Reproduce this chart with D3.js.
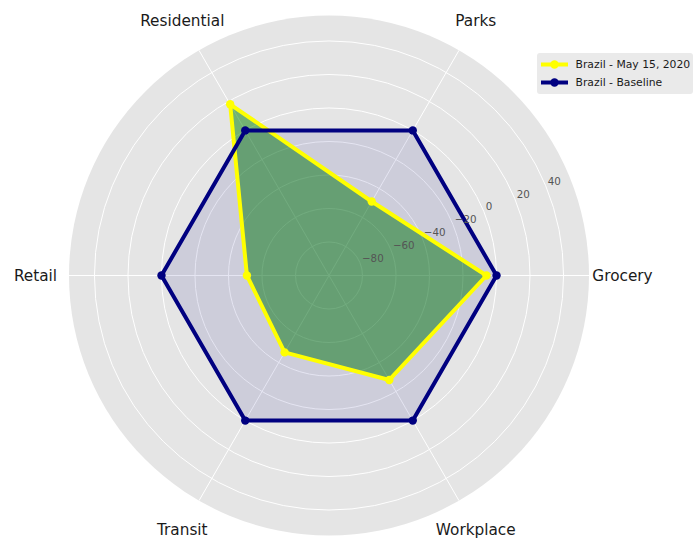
<!DOCTYPE html>
<html>
<head>
<meta charset="utf-8">
<script src="https://cdn.jsdelivr.net/npm/d3@7"></script>
<style>
  body { margin: 0; background: #fff; }
  svg { display: block; font-family: "DejaVu Sans", sans-serif; }
</style>
</head>
<body>
<svg id="chart" width="695" height="538"></svg>
<script>
// data
const categories = ['Grocery', 'Parks', 'Residential', 'Retail', 'Transit', 'Workplace']
const may15 = [-6, -49, 18, -51, -47, -28]
const baseline = [0, 0, 0, 0, 0, 0]
const rTicks = [-80, -60, -40, -20, 0, 20, 40]
const seriesNames = ['Brazil - May 15, 2020', 'Brazil - Baseline']

const svg = d3.select('#chart')
const cx = 329
const cy = 275.5
const R = 260

// radial scale
const r = d3.scaleLinear().domain([-100, 55.2]).range([0, R])
// category angle, counter clockwise from east (math convention)
const theta = (i) => i * 2 * Math.PI / categories.length
// d3 radial angle is clockwise from 12 o'clock
const angle = (d, i) => Math.PI / 2 - theta(i)

const g = svg.append('g')
  .attr('transform', 'translate(' + cx + ',' + cy + ')')

// background disc
g.append('circle')
  .attr('r', R)
  .attr('fill', '#E5E5E5')

// circular grid
g.selectAll('.ring')
  .data(rTicks)
  .enter().append('circle')
  .attr('class', 'ring')
  .attr('r', (d) => r(d))
  .attr('fill', 'none')
  .attr('stroke', '#fff')
  .attr('stroke-width', 1)

// spokes
g.selectAll('.spoke')
  .data(categories)
  .enter().append('line')
  .attr('class', 'spoke')
  .attr('x1', 0).attr('y1', 0)
  .attr('x2', (d, i) => R * Math.cos(theta(i)))
  .attr('y2', (d, i) => -R * Math.sin(theta(i)))
  .attr('stroke', '#fff')
  .attr('stroke-width', 1)

const radial = d3.lineRadial()
  .angle(angle)
  .radius((d) => r(d))
  .curve(d3.curveLinearClosed)

// fills
g.append('path')
  .datum(may15)
  .attr('d', radial)
  .attr('fill', 'rgb(0,128,0)')
  .attr('fill-opacity', 0.5)

g.append('path')
  .datum(baseline)
  .attr('d', radial)
  .attr('fill', 'rgb(0,0,128)')
  .attr('fill-opacity', 0.1)

// outlines + markers
function drawSeries (data, color) {
  g.append('path')
    .datum(data)
    .attr('d', radial)
    .attr('fill', 'none')
    .attr('stroke', color)
    .attr('stroke-width', 4)
    .attr('stroke-linejoin', 'round')
  g.selectAll(null)
    .data(data)
    .enter().append('circle')
    .attr('cx', (d, i) => r(d) * Math.cos(theta(i)))
    .attr('cy', (d, i) => -r(d) * Math.sin(theta(i)))
    .attr('r', 4.2)
    .attr('fill', color)
}
drawSeries(may15, '#FFFF00')
drawSeries(baseline, '#000080')

// radial tick labels at 22.5 deg
const la = 22.5 * Math.PI / 180
g.selectAll('.rlabel')
  .data(rTicks)
  .enter().append('text')
  .attr('class', 'rlabel')
  .attr('x', (d) => r(d) * Math.cos(la) + 2)
  .attr('y', (d) => -r(d) * Math.sin(la) - 1)
  .attr('font-size', 10.3)
  .attr('fill', '#555')
  .text((d) => d3.format('d')(d).replace('-', '\u2212'))

// category labels
g.selectAll('.clabel')
  .data(categories)
  .enter().append('text')
  .attr('class', 'clabel')
  .attr('x', (d, i) => 293.5 * Math.cos(theta(i)))
  .attr('y', (d, i) => -293.5 * Math.sin(theta(i)))
  .attr('text-anchor', 'middle')
  .attr('dominant-baseline', 'central')
  .attr('font-size', 15.3)
  .attr('fill', '#1a1a1a')
  .text((d) => d)

// legend
const legend = svg.append('g').attr('transform', 'translate(537,53)')
legend.append('rect')
  .attr('width', 156).attr('height', 41)
  .attr('rx', 3)
  .attr('fill', '#EAEAEA')
const colors = ['#FFFF00', '#000080']
seriesNames.forEach(function (name, i) {
  const y = 11.5 + i * 18
  legend.append('line')
    .attr('x1', 4).attr('x2', 31)
    .attr('y1', y).attr('y2', y)
    .attr('stroke', colors[i])
    .attr('stroke-width', 4)
  legend.append('circle')
    .attr('cx', 17.5).attr('cy', y)
    .attr('r', 4.2)
    .attr('fill', colors[i])
  legend.append('text')
    .attr('x', 38.5).attr('y', y)
    .attr('dominant-baseline', 'central')
    .attr('font-size', 10.8)
    .attr('fill', '#1a1a1a')
    .text(name)
})
</script>
</body>
</html>
